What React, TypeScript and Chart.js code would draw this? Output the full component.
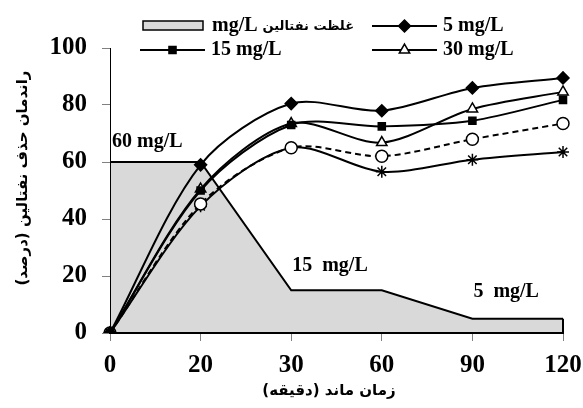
import React, { useEffect, useRef } from 'react';
import { Chart, registerables } from 'chart.js';
import { drawPoint } from 'chart.js/helpers';

Chart.register(...registerables);

// ---------- data ----------
const timeLabels = ['0', '20', '30', '60', '90', '120'];
const inletConc = [60, 60, 15, 15, 5, 5];
const removal5 = [0, 59, 80.5, 78, 86, 89.5];
const removal15 = [0, 50, 73, 72.5, 74.5, 81.8];
const removal30 = [0, 50.5, 73.5, 66.8, 78.6, 84.6];
const removalCircle = [0, 45.3, 65, 62, 68, 73.5];
const removalStar = [0, 44.5, 65, 56.6, 60.8, 63.5];
const yMin = 0;
const yMax = 100;
const yStep = 20;

const seriesLabels = ['5 mg/L', '15 mg/L', '30 mg/L', '', '', 'mg/L غلظت نفتالین'];
const concNotes = ['60 mg/L', '15  mg/L', '5  mg/L'];
const xTitle = '\u200Fزمان ماند (دقیقه)\u200F';
const yTitle = '\u200Fراندمان حذف نفتالین (درصد)\u200F';

const SERIF = "'Liberation Serif', 'Times New Roman', 'DejaVu Sans', serif";
const PERSIAN = "'DejaVu Sans', sans-serif";

const edgePlugin = {
  id: 'edgePlugin',
  afterDatasetsDraw(chart: any) {
    const { ctx, scales } = chart;
    const xs = scales.x;
    const ys = scales.y;
    const lastIdx = timeLabels.length - 1;
    const x = xs.getPixelForValue(lastIdx);
    ctx.save();
    ctx.strokeStyle = '#000';
    ctx.lineWidth = 2;
    ctx.beginPath();
    ctx.moveTo(x, ys.getPixelForValue(inletConc[lastIdx]));
    ctx.lineTo(x, ys.getPixelForValue(0));
    ctx.stroke();

    // concentration notes
    ctx.fillStyle = '#000';
    ctx.font = `bold 20px ${SERIF}`;
    ctx.textAlign = 'left';
    ctx.textBaseline = 'middle';
    ctx.fillText(concNotes[0], xs.getPixelForValue(0) + 2, ys.getPixelForValue(67));
    ctx.fillText(concNotes[1], xs.getPixelForValue(2) + 1, ys.getPixelForValue(23.5));
    ctx.fillText(concNotes[2], xs.getPixelForValue(4) + 1, ys.getPixelForValue(14.5));
    ctx.restore();
  },
};

const titlePlugin = {
  id: 'axisTitles',
  afterDraw(chart: any) {
    const { ctx } = chart;
    ctx.save();
    ctx.fillStyle = '#000';
    ctx.font = `bold 15px ${PERSIAN}`;
    ctx.textAlign = 'center';
    ctx.textBaseline = 'middle';
    ctx.fillText(xTitle, 329, 391);
    ctx.translate(23, 178);
    ctx.rotate(-Math.PI / 2);
    ctx.fillText(yTitle, 0, 0);
    ctx.restore();
  },
};

const legendPlugin = {
  id: 'customLegend',
  afterDraw(chart: any) {
    const { ctx } = chart;
    const ds = chart.data.datasets;
    ctx.save();
    ctx.textBaseline = 'middle';
    ctx.textAlign = 'left';
    ctx.fillStyle = '#000';

    // area entry
    const area = ds[5];
    ctx.fillStyle = area.backgroundColor;
    ctx.fillRect(143, 21, 60, 9);
    ctx.strokeStyle = '#000';
    ctx.lineWidth = 1.5;
    ctx.strokeRect(143, 21, 60, 9);
    ctx.fillStyle = '#000';
    ctx.font = `bold 20px ${SERIF}`;
    ctx.fillText('mg/L', 212, 26);
    const mw = ctx.measureText('mg/L ').width;
    ctx.font = `bold 13px ${PERSIAN}`;
    ctx.fillText('غلظت نفتالین', 212 + mw, 27);

    const entries = [
      { idx: 0, x0: 372, x1: 437, y: 26 },
      { idx: 1, x0: 140, x1: 205, y: 50 },
      { idx: 2, x0: 372, x1: 437, y: 50 },
    ];
    for (const e of entries) {
      const d = ds[e.idx];
      ctx.strokeStyle = '#000';
      ctx.lineWidth = 2;
      ctx.setLineDash([]);
      ctx.beginPath();
      ctx.moveTo(e.x0, e.y);
      ctx.lineTo(e.x1, e.y);
      ctx.stroke();
      ctx.fillStyle = d.pointBackgroundColor;
      ctx.strokeStyle = '#000';
      ctx.lineWidth = d.pointBorderWidth;
      drawPoint(ctx, { pointStyle: d.pointStyle, radius: d.pointRadius, rotation: 0, borderWidth: d.pointBorderWidth }, (e.x0 + e.x1) / 2, e.y);
      ctx.fillStyle = '#000';
      ctx.font = `bold 20px ${SERIF}`;
      ctx.fillText(d.label, e.x1 + 6, e.y);
    }
    ctx.restore();
  },
};

export default function App() {
  const ref = useRef<HTMLCanvasElement>(null);
  useEffect(() => {
    if (!ref.current) return;
    const lineBase = {
      borderColor: '#000',
      borderWidth: 2,
      pointBorderColor: '#000',
      pointBorderWidth: 1.5,
      tension: 0.3,
      fill: false,
    };
    const chart = new Chart(ref.current, {
      type: 'line',
      data: {
        labels: timeLabels,
        datasets: [
          { ...lineBase, label: seriesLabels[0], data: removal5, pointStyle: 'rectRot', pointRadius: 6, pointBackgroundColor: '#000', order: 1 },
          { ...lineBase, label: seriesLabels[1], data: removal15, pointStyle: 'rect', pointRadius: 5, pointBackgroundColor: '#000', order: 1 },
          { ...lineBase, label: seriesLabels[2], data: removal30, pointStyle: 'triangle', pointRadius: 6, pointBackgroundColor: '#fff', order: 1 },
          { ...lineBase, label: seriesLabels[3], data: removalCircle, pointStyle: 'circle', pointRadius: 6, pointBackgroundColor: '#fff', borderDash: [6, 4], order: 1 },
          { ...lineBase, label: seriesLabels[4], data: removalStar, pointStyle: 'star', pointRadius: 6, pointBackgroundColor: '#000', order: 1 },
          {
            label: seriesLabels[5],
            data: inletConc,
            borderColor: '#000',
            borderWidth: 2,
            backgroundColor: '#d9d9d9',
            fill: 'origin',
            pointRadius: 0,
            tension: 0,
            order: 10,
          },
        ] as any,
      },
      options: {
        animation: false,
        responsive: false,
        layout: { padding: { top: 48, right: 20, left: 0, bottom: 0 } },
        plugins: {
          legend: { display: false },
          tooltip: { enabled: false },
        },
        scales: {
          x: {
            type: 'category',
            offset: false,
            grid: { display: true, drawOnChartArea: false, drawTicks: true, tickLength: 8, tickColor: '#808080', offset: false },
            border: { display: true, color: '#000', width: 2, z: 1 },
            ticks: { color: '#000', font: { family: SERIF, size: 25, weight: 'bold' }, padding: 10, maxRotation: 0 },
            title: { display: false },
            afterFit(scale: any) {
              scale.height = 75;
              scale.paddingRight = 0;
              scale.paddingLeft = 0;
            },
          },
          y: {
            min: yMin,
            max: yMax,
            grid: { display: true, drawOnChartArea: false, drawTicks: true, tickLength: 8, tickColor: '#808080' },
            border: { display: true, color: '#000', width: 1, z: 1 },
            ticks: { stepSize: yStep, color: '#000', font: { family: SERIF, size: 25, weight: 'bold' }, padding: 15 },
            title: { display: false },
            afterFit(scale: any) { scale.width = 110; },
          },
        },
      } as any,
      plugins: [edgePlugin, legendPlugin, titlePlugin],
    });
    return () => chart.destroy();
  }, []);
  return (
    <div style={{ position: 'absolute', left: 0, top: 0, width: 583, height: 408, background: '#fff' }}>
      <canvas ref={ref} width={583} height={408} />
    </div>
  );
}
